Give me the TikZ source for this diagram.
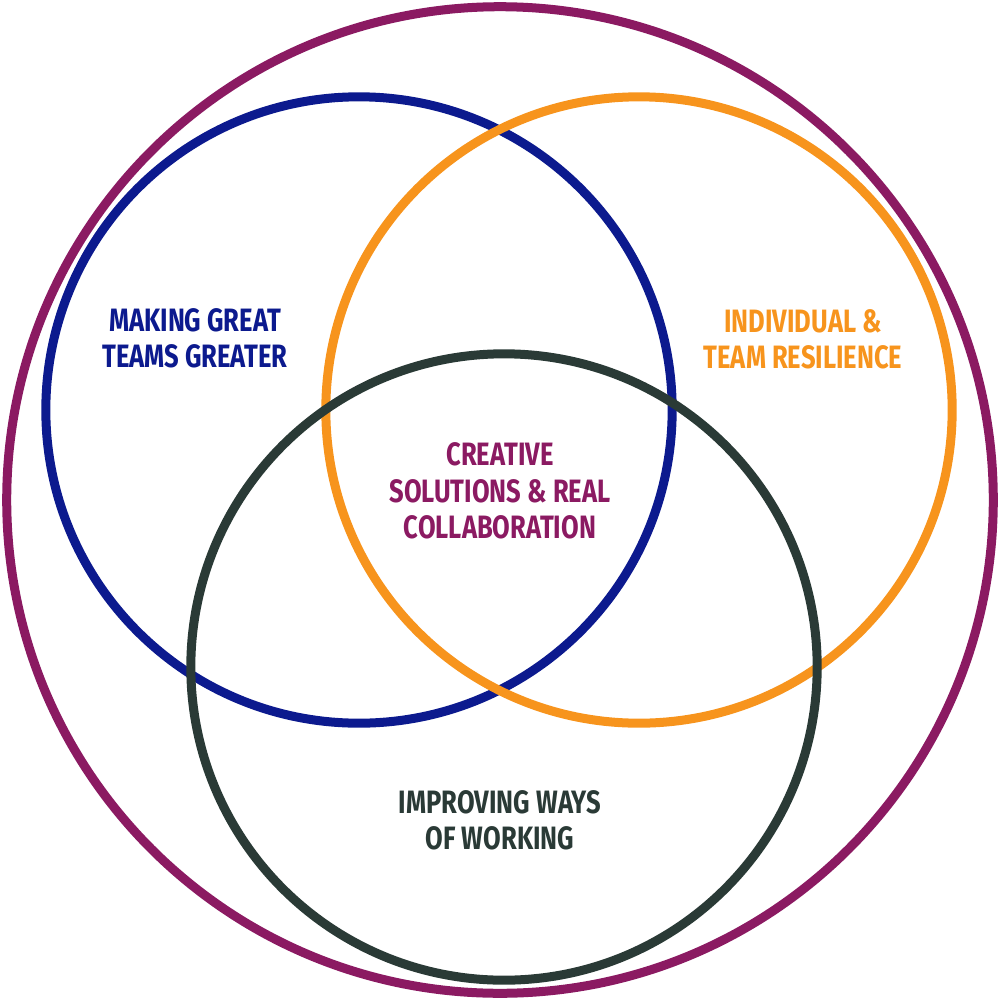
\documentclass[tikz,border=0pt]{standalone}
\usepackage{fontspec}
\setmainfont{Fira Sans}[FakeStretch=0.79]
\definecolor{cpurple}{HTML}{8B1A62}
\definecolor{cblue}{HTML}{0C1A8E}
\definecolor{corange}{HTML}{F7941D}
\definecolor{cdark}{HTML}{2A3A36}
\begin{document}
\begin{tikzpicture}[x=0.01cm,y=-0.01cm,
  ring/.style={line width=0.09cm},
  lbl/.style={font=\fontsize{9.2}{10.3}\selectfont\bfseries, align=center, inner sep=0pt}]
\useasboundingbox (0,0) rectangle (1000,1000);
\node[circle, ring, draw=cpurple, minimum size=9.86cm, inner sep=0pt] (outer) at (500,500) {};
\node[circle, ring, draw=cblue, minimum size=6.26cm, inner sep=0pt] (blue) at (359,410) {};
\node[circle, ring, draw=corange, minimum size=6.26cm, inner sep=0pt] (orange) at (639,410) {};
\node[circle, ring, draw=cdark, minimum size=6.26cm, inner sep=0pt] (dark) at (504,667) {};
\node[lbl, text=cblue] (t1) at (195,338) {MAKING GREAT\\TEAMS GREATER};
\node[lbl, text=corange] (t2) at (803,339) {INDIVIDUAL \&\\TEAM RESILIENCE};
\node[lbl, text=cpurple] (t3) at (500,491) {CREATIVE\\SOLUTIONS \& REAL\\COLLABORATION};
\node[lbl, text=cdark] (t4) at (500,820) {IMPROVING WAYS\\OF WORKING};
\end{tikzpicture}
\end{document}
